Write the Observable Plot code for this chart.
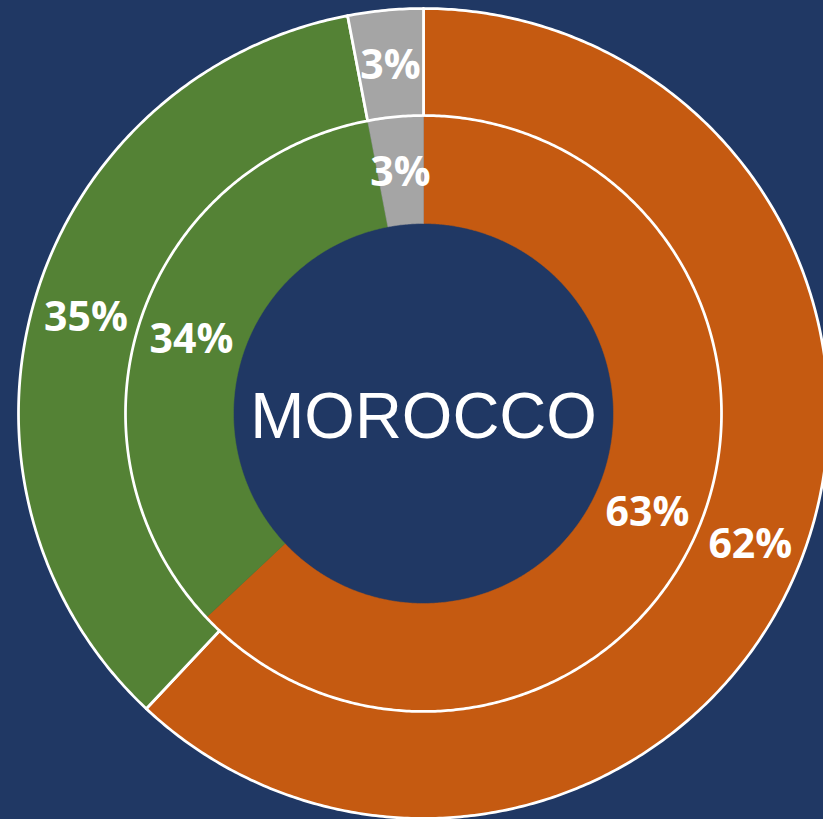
<!DOCTYPE html>
<html>
<head>
<meta charset="utf-8">
<script src="https://cdn.jsdelivr.net/npm/d3@7"></script>
<script src="https://cdn.jsdelivr.net/npm/@observablehq/plot@0.6"></script>
<style>
  html, body { margin: 0; padding: 0; background: #203864; overflow: hidden; }
  #chart { width: 823px; height: 819px; }
</style>
</head>
<body>
<div id="chart"></div>
<script>
// ---- data ----
const categories = ["Category 1", "Category 2", "Category 3"];
const outerValues = [62, 35, 3];
const innerValues = [63, 34, 3];
const centerLabel = "MOROCCO";
const colors = ["#C55A11", "#548235", "#A5A5A5"];

// ---- layout (pixel units in the chart's own coordinate space) ----
const W = 823, H = 819, CX = 423, CY = 413;
const rings = [
  {name: "inner", values: innerValues, r0: 190, r1: 298},
  {name: "outer", values: outerValues, r0: 298, r1: 405}
];

const polys = [];
const labels = [];
for (const ring of rings) {
  const total = d3.sum(ring.values);
  let acc = 0;
  ring.values.forEach((v, i) => {
    const a0 = acc / total * 2 * Math.PI;
    acc += v;
    const a1 = acc / total * 2 * Math.PI;
    const id = ring.name + i;
    const n = Math.max(4, Math.ceil((a1 - a0) / (Math.PI / 360)));
    const pts = [];
    for (let k = 0; k <= n; k++) {
      const a = a0 + (a1 - a0) * k / n;
      pts.push([ring.r1 * Math.sin(a), -ring.r1 * Math.cos(a)]);
    }
    for (let k = n; k >= 0; k--) {
      const a = a0 + (a1 - a0) * k / n;
      pts.push([ring.r0 * Math.sin(a), -ring.r0 * Math.cos(a)]);
    }
    pts.push(pts[0]);
    for (const [x, y] of pts) polys.push({ring: ring.name, id, cat: categories[i], x, y});
    const am = (a0 + a1) / 2, rm = (ring.r0 + ring.r1) / 2;
    labels.push({x: rm * Math.sin(am), y: -rm * Math.cos(am), text: `${v}%`});
  });
}

const chart = Plot.plot({
  width: W,
  height: H,
  margin: 0,
  style: {background: "#203864", overflow: "hidden"},
  x: {domain: [-CX, W - CX], range: [0, W], axis: null},
  y: {domain: [-CY, H - CY], range: [0, H], axis: null},
  color: {domain: categories, range: colors},
  marks: [
    Plot.line(polys.filter(d => d.ring === "inner"), {x: "x", y: "y", z: "id", fill: "cat", stroke: "cat", strokeWidth: 0.5, curve: "linear"}),
    Plot.line(polys.filter(d => d.ring === "outer"), {x: "x", y: "y", z: "id", fill: "cat", stroke: "white", strokeWidth: 2.75, curve: "linear"}),
    Plot.text(labels, {x: "x", y: "y", text: "text", fill: "white", fontSize: 41, fontWeight: "bold", fontFamily: "Open Sans", dy: 2}),
    Plot.text([centerLabel], {x: () => 0, y: () => 0, text: d => d, fill: "white", fontSize: 65, fontFamily: "Liberation Sans", dy: 4})
  ]
});
document.getElementById("chart").appendChild(chart);
</script>
</body>
</html>
